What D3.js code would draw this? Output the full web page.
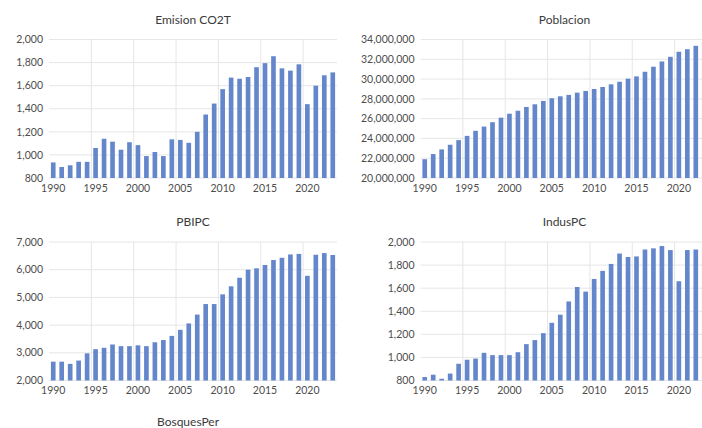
<!DOCTYPE html>
<html lang="es">
<head>
  <meta charset="UTF-8">
  <title>Indicadores 1990-2023</title>
  <script src="https://d3js.org/d3.v7.min.js"></script>
  <style>
    body { margin: 0; padding: 0; background: #ffffff; overflow: hidden; }
    svg { display: block; font-family: Lato, "Open Sans", sans-serif; }
    .tick-label { font-size: 10.5px; fill: #4d4d4d; }
    .title { font-size: 12px; fill: #3a3a3a; }
  </style>
</head>
<body>
  <svg id="chart" width="702" height="428"></svg>

  <script>
    // years shown on every panel
    const years = d3.range(1990, 2024);

    const emisionCO2T = [935, 895, 910, 940, 940, 1060, 1140, 1115, 1045, 1110,
      1085, 990, 1025, 990, 1135, 1130, 1105, 1200, 1350, 1445,
      1570, 1670, 1660, 1675, 1760, 1795, 1855, 1750, 1730, 1785,
      1440, 1600, 1690, 1715];

    const poblacion = [21900000, 22420000, 22890000, 23360000, 23830000, 24260000, 24770000, 25200000, 25640000, 26100000,
      26500000, 26800000, 27180000, 27450000, 27790000, 28060000, 28260000, 28400000, 28630000, 28800000,
      29000000, 29200000, 29470000, 29730000, 30040000, 30270000, 30740000, 31250000, 31780000, 32250000,
      32760000, 33020000, 33360000, 33730000];

    const pbipc = [2680, 2680, 2600, 2720, 2980, 3130, 3180, 3300, 3240, 3240,
      3270, 3240, 3380, 3460, 3610, 3830, 4060, 4380, 4760, 4760,
      5110, 5400, 5710, 6000, 6050, 6170, 6350, 6430, 6550, 6570,
      5780, 6540, 6600, 6530];

    const indusPC = [830, 850, 815, 860, 945, 980, 990, 1040, 1020, 1020,
      1020, 1045, 1115, 1150, 1210, 1300, 1370, 1485, 1610, 1570,
      1680, 1750, 1810, 1900, 1870, 1875, 1935, 1945, 1965, 1930,
      1660, 1930, 1935, 1940];

    const ticksCO2 = [800, 1000, 1200, 1400, 1600, 1800, 2000];
    const ticksPob = [20000000, 22000000, 24000000, 26000000, 28000000, 30000000, 32000000, 34000000];
    const ticksPBI = [2000, 3000, 4000, 5000, 6000, 7000];
    const ticksIndus = [800, 1000, 1200, 1400, 1600, 1800, 2000];

    const labelYears = [1990, 1995, 2000, 2005, 2010, 2015, 2020];
    const gridYears = [1995, 2000, 2005, 2010, 2015, 2020];

    const panels = [
      {title: "Emision CO2T", values: emisionCO2T, ticks: ticksCO2, col: 0, row: 0},
      {title: "Poblacion", values: poblacion, ticks: ticksPob, col: 1, row: 0},
      {title: "PBIPC", values: pbipc, ticks: ticksPBI, col: 0, row: 1},
      {title: "IndusPC", values: indusPC, ticks: ticksIndus, col: 1, row: 1}
    ];

    const colX = [49, 420.5],
          rowY = [39.5, 242],
          plotW = 288,
          plotH = 138.5,
          pad = 0.45;

    const svg = d3.select("#chart");
    const fmt = d3.format(",");

    panels.forEach(p => {
      const x0 = colX[p.col], y0 = rowY[p.row];
      const g = svg.append("g").attr("transform", `translate(${x0},${y0})`);

      const x = d3.scaleBand()
        .domain(years)
        .range([0, plotW])
        .paddingInner(pad)
        .paddingOuter(pad / 2);

      const y = d3.scaleLinear()
        .domain(d3.extent(p.ticks))
        .range([plotH, 0]);

      // horizontal grid
      g.selectAll("line.hgrid")
        .data(p.ticks)
        .enter().append("line")
        .attr("x1", 0).attr("x2", plotW)
        .attr("y1", d => y(d)).attr("y2", d => y(d))
        .attr("stroke", "#e6e6e6").attr("stroke-width", 1);

      // vertical grid between categories
      const step = x.step();
      g.selectAll("line.vgrid")
        .data(gridYears)
        .enter().append("line")
        .attr("x1", d => x(d) - step * pad / 2).attr("x2", d => x(d) - step * pad / 2)
        .attr("y1", 0).attr("y2", plotH)
        .attr("stroke", "#e6e6e6").attr("stroke-width", 1);

      g.selectAll("rect")
        .data(years.map((yr, i) => ({yr, v: p.values[i]})))
        .enter().append("rect")
        .attr("x", d => x(d.yr))
        .attr("width", x.bandwidth())
        .attr("y", d => y(d.v))
        .attr("height", d => plotH - y(d.v))
        .attr("fill", "#6487cb");

      // y tick labels
      g.selectAll("text.ylab")
        .data(p.ticks)
        .enter().append("text")
        .attr("class", "tick-label")
        .attr("x", -6)
        .attr("y", d => y(d))
        .attr("dy", "0.35em")
        .attr("text-anchor", "end")
        .text(d => fmt(d));

      // x tick labels
      g.selectAll("text.xlab")
        .data(labelYears)
        .enter().append("text")
        .attr("class", "tick-label")
        .attr("x", d => x(d) + x.bandwidth() / 2)
        .attr("y", plotH + 13.5)
        .attr("text-anchor", "middle")
        .text(d => d);

      g.append("text")
        .attr("class", "title")
        .attr("x", plotW / 2)
        .attr("y", -16)
        .attr("text-anchor", "middle")
        .text(p.title);
    });

    // next panel title, cut off at the bottom of the picture
    svg.append("text")
      .attr("class", "title")
      .attr("x", colX[0] + plotW / 2 - 5)
      .attr("y", 426)
      .attr("text-anchor", "middle")
      .text("BosquesPer");
  </script>
</body>
</html>
